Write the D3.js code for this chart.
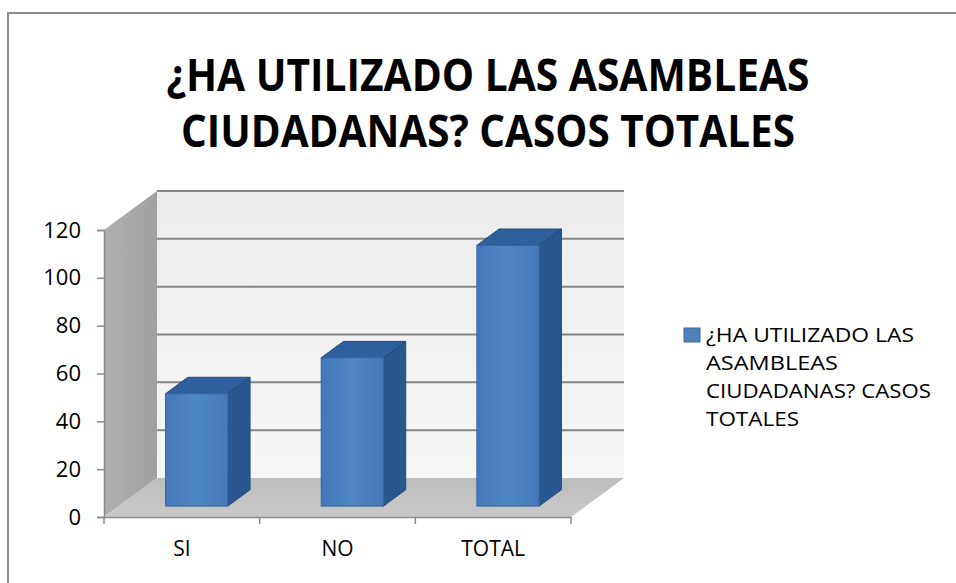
<!DOCTYPE html>
<html>
<head>
<meta charset="utf-8">
<script src="https://cdn.jsdelivr.net/npm/d3@7"></script>
<style>
  body { margin: 0; background: #fff; }
  text { font-family: "Open Sans", "DejaVu Sans", sans-serif; }
</style>
</head>
<body>
<div id="chart"></div>
<script>
var titleLines = ["¿HA UTILIZADO LAS ASAMBLEAS", "CIUDADANAS? CASOS TOTALES"];
var categories = ["SI", "NO", "TOTAL"];
var values = [47, 62, 109];
var yTicks = [0, 20, 40, 60, 80, 100, 120];
var legendLines = ["¿HA UTILIZADO LAS", "ASAMBLEAS", "CIUDADANAS? CASOS", "TOTALES"];

var W = 956, H = 583;
var depthX = 53, depthY = -39;   // floor depth offset
var barFront = 0.28, barBack = 0.70;

var svg = d3.select("#chart").append("svg")
  .attr("width", W)
  .attr("height", H);

var defs = svg.append("defs");
function linGrad(id, x2, y2, stops){
  var g = defs.append("linearGradient").attr("id", id)
    .attr("x1", 0).attr("y1", 0).attr("x2", x2).attr("y2", y2);
  stops.forEach(function(s){
    g.append("stop").attr("offset", s[0]).attr("stop-color", s[1]);
  });
}
linGrad("backWall", 0, 1, [[0, "#ececec"], [1, "#f6f6f6"]]);
linGrad("leftWall", 1, 0, [[0, "#b0b0b0"], [1, "#a0a0a0"]]);
linGrad("floor", 0, 1, [[0, "#bdbdbd"], [1, "#c9c9c9"]]);
linGrad("barFront", 1, 0, [[0, "#4478b8"], [0.5, "#4f86c6"], [1, "#4478b8"]]);

// outer frame (cut off at right and bottom)
svg.append("rect")
  .attr("x", 8).attr("y", 13)
  .attr("width", 1000).attr("height", 700)
  .attr("fill", "none")
  .attr("stroke", "#8a8a8a")
  .attr("stroke-width", 2);

// title
var title = svg.append("g");
title.selectAll("text")
  .data(titleLines)
  .enter().append("text")
  .attr("x", 488)
  .attr("y", function(d, i){ return 91 + i * 56; })
  .attr("text-anchor", "middle")
  .attr("font-size", 45)
  .attr("font-weight", "bold")
  .attr("fill", "#000")
  .attr("textLength", function(d, i){ return i == 0 ? 643 : 614; })
  .attr("lengthAdjust", "spacingAndGlyphs")
  .text(function(d){ return d; });

var x = d3.scaleBand()
  .domain(categories)
  .range([104, 571]);

var y = d3.scaleLinear()
  .domain([0, 120])
  .range([517, 230]);

function pt(px, py, d){ return [px + depthX * d, py + depthY * d]; }
function poly(points){ return points.map(function(p){ return p.join(","); }).join(" "); }

var x0 = x.range()[0], x1 = x.range()[1];
var yb = y(0), yt = y(120);

// walls and floor
var walls = svg.append("g");
walls.append("polygon")
  .attr("points", poly([pt(x0, yb, 1), pt(x1, yb, 1), pt(x1, yt, 1), pt(x0, yt, 1)]))
  .attr("fill", "url(#backWall)");
walls.append("polygon")
  .attr("points", poly([pt(x0, yb, 0), pt(x0, yb, 1), pt(x0, yt, 1), pt(x0, yt, 0)]))
  .attr("fill", "url(#leftWall)");
walls.append("polygon")
  .attr("points", poly([pt(x0, yb, 0), pt(x1, yb, 0), pt(x1, yb, 1), pt(x0, yb, 1)]))
  .attr("fill", "url(#floor)");

// gridlines on back wall
walls.selectAll(".grid")
  .data(yTicks.filter(function(t){ return t > 0; }))
  .enter().append("line")
  .attr("class", "grid")
  .attr("x1", x0 + depthX).attr("x2", x1 + depthX)
  .attr("y1", function(d){ return y(d) + depthY; })
  .attr("y2", function(d){ return y(d) + depthY; })
  .attr("stroke", "#868686")
  .attr("stroke-width", 2);

// y axis
var yAxis = svg.append("g")
  .attr("transform", "translate(" + x0 + ",0)")
  .call(d3.axisLeft(y).tickValues(yTicks).tickSize(7).tickPadding(16));
yAxis.selectAll("line, path").attr("stroke", "#8a8a8a").attr("stroke-width", 1.5);
yAxis.selectAll("text").attr("font-size", 22).attr("fill", "#000")
  .style("font-family", "'Open Sans', sans-serif");

// x axis
var xAxis = svg.append("g")
  .attr("transform", "translate(0," + yb + ")")
  .call(d3.axisBottom(x).tickSize(0).tickPadding(24));
xAxis.select("path").attr("stroke", "#8a8a8a").attr("stroke-width", 1.5);
xAxis.selectAll("text").attr("font-size", 21).attr("fill", "#000")
  .style("font-family", "'Open Sans', sans-serif");
var edges = categories.map(function(c){ return x(c); }).concat([x1]);
xAxis.selectAll(".edge")
  .data(edges)
  .enter().append("line")
  .attr("class", "edge")
  .attr("x1", function(d){ return d; }).attr("x2", function(d){ return d; })
  .attr("y1", 0).attr("y2", 7)
  .attr("stroke", "#8a8a8a")
  .attr("stroke-width", 1.5);

// bars
var bw = x.bandwidth() * 0.4;
var bars = svg.append("g").selectAll("g")
  .data(categories.map(function(c, i){ return {c: c, v: values[i]}; }))
  .enter().append("g");

bars.each(function(d){
  var g = d3.select(this);
  var left = x(d.c) + (x.bandwidth() - bw) / 2;
  var right = left + bw;
  var top = y(d.v), bot = y(0);
  // side
  g.append("polygon")
    .attr("points", poly([pt(right, bot, barFront), pt(right, bot, barBack), pt(right, top, barBack), pt(right, top, barFront)]))
    .attr("fill", "#2a5790").attr("stroke", "#24497a").attr("stroke-width", 1);
  // top
  g.append("polygon")
    .attr("points", poly([pt(left, top, barFront), pt(right, top, barFront), pt(right, top, barBack), pt(left, top, barBack)]))
    .attr("fill", "#2f5f9c").attr("stroke", "#24497a").attr("stroke-width", 1);
  // front
  var f = pt(left, top, barFront);
  g.append("rect")
    .attr("x", f[0]).attr("y", f[1])
    .attr("width", bw).attr("height", bot - top)
    .attr("fill", "url(#barFront)")
    .attr("stroke", "#3565a0").attr("stroke-width", 1);
});

// legend
var legendWidths = [208, 132, 225, 93];
var legend = svg.append("g");
legend.append("rect")
  .attr("x", 684).attr("y", 328)
  .attr("width", 16).attr("height", 14)
  .attr("fill", "#4f81bd")
  .attr("stroke", "#3a6aa5");
legend.selectAll("text")
  .data(legendLines)
  .enter().append("text")
  .attr("x", 706)
  .attr("y", function(d, i){ return 342 + i * 28; })
  .attr("font-size", 20)
  .attr("fill", "#000")
  .attr("textLength", function(d, i){ return legendWidths[i]; })
  .attr("lengthAdjust", "spacingAndGlyphs")
  .text(function(d){ return d; });
</script>
</body>
</html>
